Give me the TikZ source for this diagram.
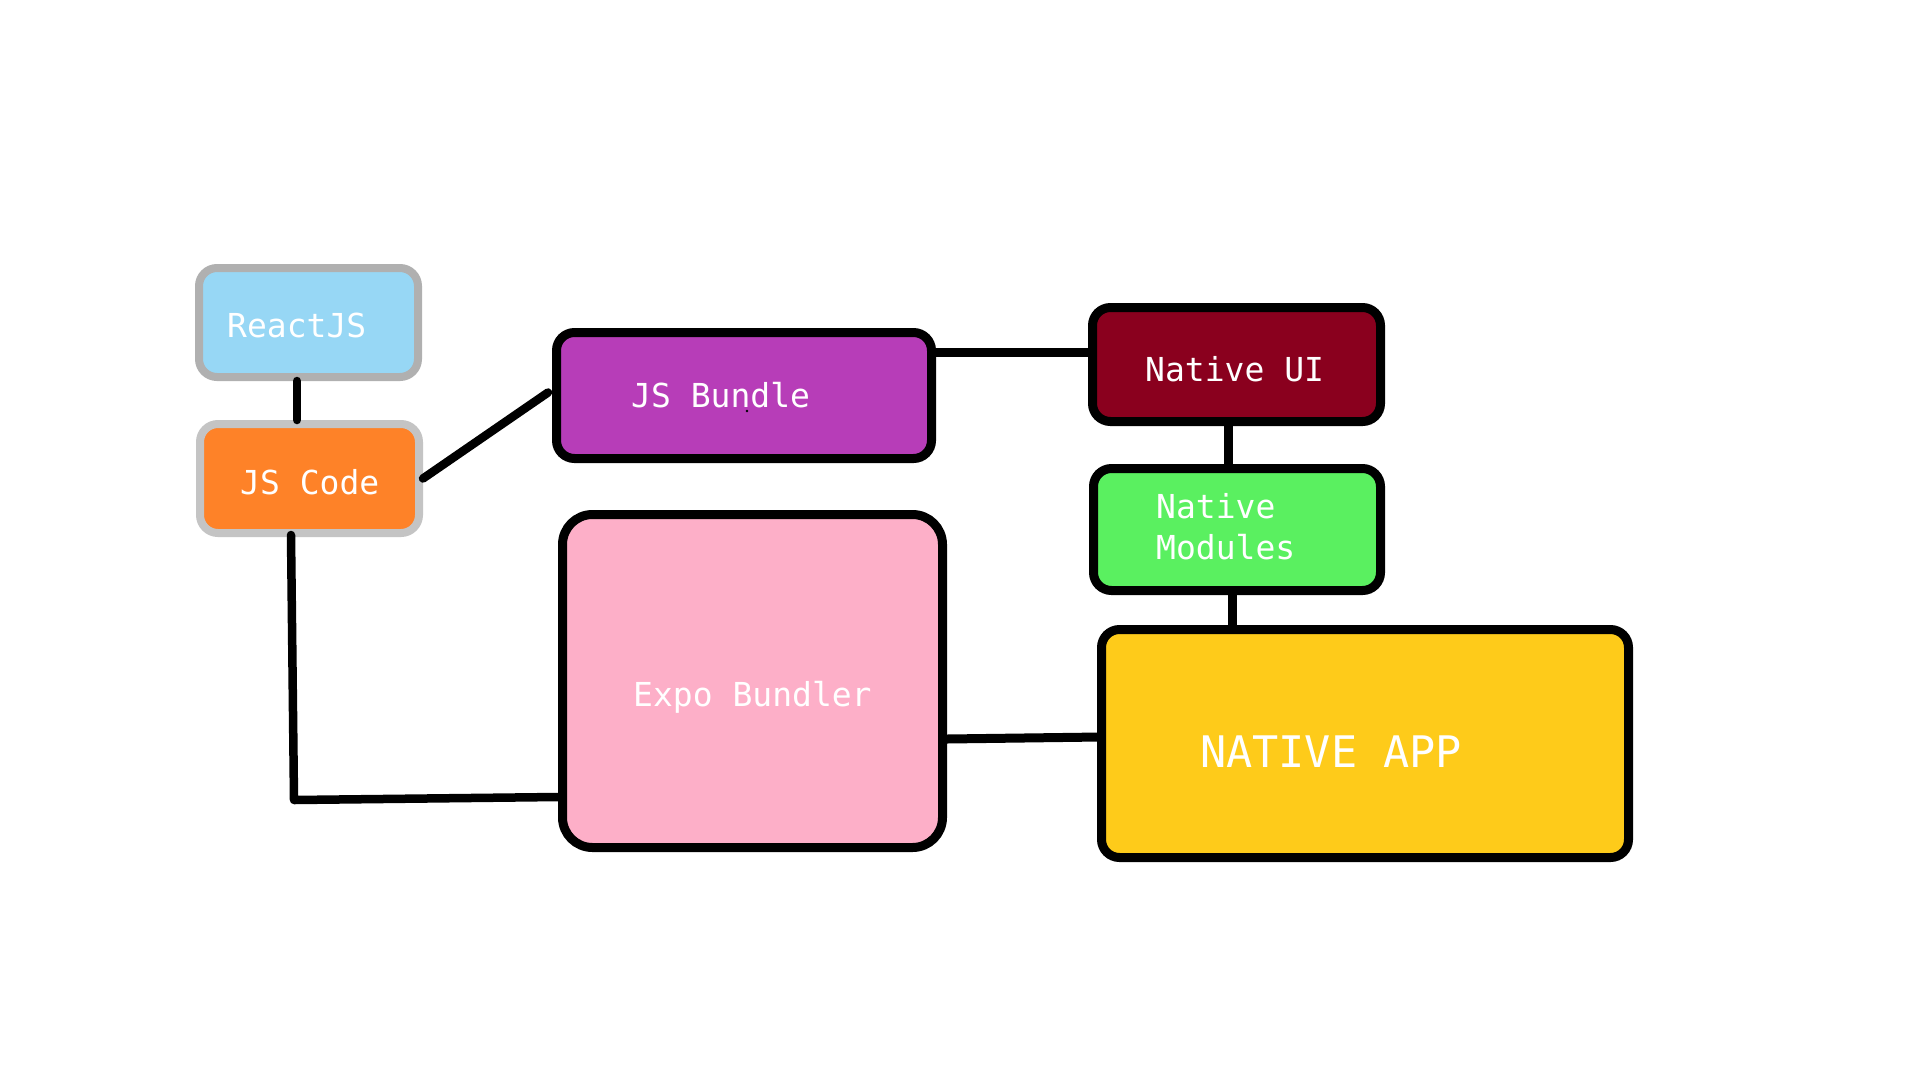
\documentclass[tikz,border=0pt]{standalone}
\usepackage{fontspec}
\newfontfamily\dmono{DejaVu Sans Mono}
\definecolor{rgray}{HTML}{B0B0B0}
\definecolor{cgray}{HTML}{C4C4C4}
\definecolor{rblue}{HTML}{97D7F5}
\definecolor{corange}{HTML}{FE8228}
\definecolor{bpurple}{HTML}{B73DB8}
\definecolor{ured}{HTML}{8A001E}
\definecolor{mgreen}{HTML}{5AF060}
\definecolor{epink}{HTML}{FDAFC8}
\definecolor{ayellow}{HTML}{FECB1A}
\begin{document}
\begin{tikzpicture}[x=1pt,y=-1pt,
  box/.style={draw=black, line width=9pt, rounded corners=18pt, inner sep=0pt},
  gbox/.style={line width=8pt, rounded corners=18pt, inner sep=0pt},
  lbl/.style={text=white, font=\dmono\fontsize{33}{41}\selectfont, anchor=base west, inner sep=0pt},
  biglbl/.style={text=white, font=\dmono\fontsize{43.5}{50}\selectfont, anchor=base west, inner sep=0pt},
  conn/.style={draw=black, line width=9pt},
  rconn/.style={draw=black, line width=8.5pt, line cap=round, line join=round}]
\useasboundingbox (0,0) rectangle (1920,1080);
\fill[white] (0,0) rectangle (1920,1080);

% boxes
\node[gbox, draw=rgray, fill=rblue, minimum width=219pt, minimum height=109pt] (reactjs) at (308.5,322.5) {};
\node[gbox, draw=cgray, fill=corange, minimum width=219pt, minimum height=109pt] (jscode) at (309.5,478.5) {};
\node[box, fill=bpurple, minimum width=375pt, minimum height=126pt] (jsbundle) at (744,395.5) {};
\node[box, fill=ured, minimum width=288pt, minimum height=114pt] (nativeui) at (1236.5,364.5) {};
\node[box, fill=mgreen, minimum width=287pt, minimum height=122pt] (nativemod) at (1237,529.5) {};
\node[box, fill=epink, rounded corners=30pt, minimum width=380pt, minimum height=333pt] (expo) at (752.5,681) {};
\node[box, fill=ayellow, minimum width=527pt, minimum height=228pt] (nativeapp) at (1365,743.5) {};

% labels
\node[lbl] (reactjs-t) at (227,337) {ReactJS};
\node[lbl] (jscode-t) at (240,494) {JS Code};
\node[lbl] (jsbundle-t) at (631,407) {JS Bundle};
\node[lbl] (nativeui-t) at (1145,381) {Native UI};
\node[lbl] (nativemod-t1) at (1156,518) {Native};
\node[lbl] (nativemod-t2) at (1156,559) {Modules};
\node[lbl] (expo-t) at (633,706) {Expo Bundler};
\node[biglbl] (nativeapp-t) at (1200,767) {NATIVE APP};
\fill (747,411) circle (1.3);

% connectors
\draw[rconn] ([xshift=-11.5pt]reactjs.south) coordinate (c0) -- (c0 |- jscode.north);
\draw[rconn] (jscode.east) -- ([xshift=-4pt,yshift=3pt]jsbundle.west);
\draw[conn] ([yshift=43.5pt]jsbundle.east) coordinate (c1) -- (c1 -| nativeui.west);
\draw[conn] ([xshift=-8.5pt]nativeui.south) coordinate (c2) -- (c2 |- nativemod.north);
\draw[conn] ([xshift=-5pt]nativemod.south) coordinate (c3) -- (c3 |- nativeapp.north);
\draw[conn] ([yshift=-58pt]expo.east) -- ([yshift=6.5pt,xshift=3pt]nativeapp.west);
\coordinate (bend) at (294,800);
\draw[rconn] ([xshift=-18.5pt,yshift=2pt]jscode.south) -- (bend) -- ([yshift=-116pt]expo.west);
\end{tikzpicture}
\end{document}
